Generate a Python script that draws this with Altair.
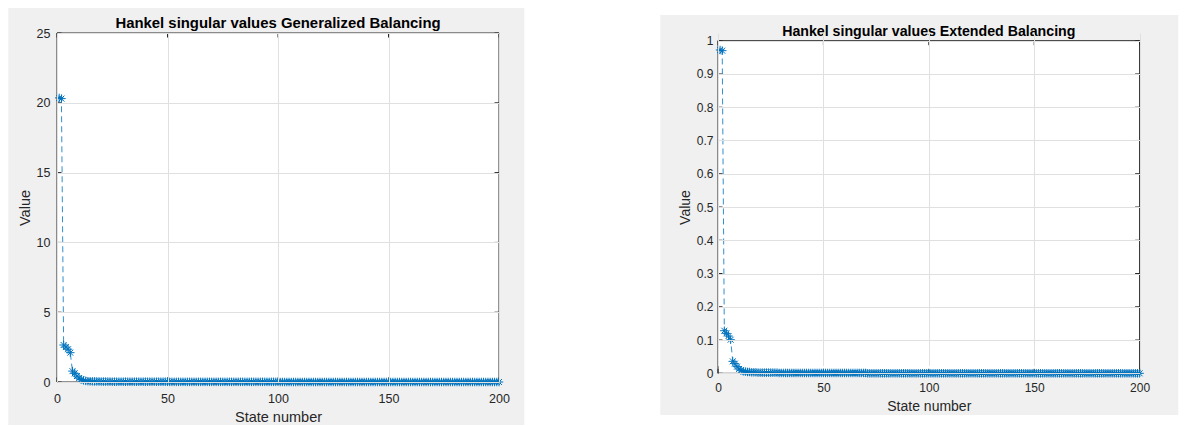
import altair as alt
import pandas as pd

# ---------------- data ----------------
state_number = list(range(1, 201))

gb_values = [
    20.35, 20.30, 2.65, 2.50, 2.35, 2.10, 0.78, 0.62, 0.42, 0.28, 0.18, 0.12, 0.08, 0.06, 0.05, 0.05, 0.04, 0.04, 0.04, 0.03,
    0.03, 0.03, 0.03, 0.03, 0.02, 0.02, 0.02, 0.02, 0.02, 0.02, 0.02, 0.02, 0.02, 0.02, 0.02, 0.02, 0.02, 0.02, 0.02, 0.02,
    0.02, 0.02, 0.02, 0.02, 0.02, 0.02, 0.02, 0.02, 0.02, 0.02, 0.01, 0.01, 0.01, 0.01, 0.01, 0.01, 0.01, 0.01, 0.01, 0.01,
    0.01, 0.01, 0.01, 0.01, 0.01, 0.01, 0.01, 0.01, 0.01, 0.01, 0.01, 0.01, 0.01, 0.01, 0.01, 0.01, 0.01, 0.01, 0.01, 0.01,
    0.01, 0.01, 0.01, 0.01, 0.01, 0.01, 0.01, 0.01, 0.01, 0.01, 0.01, 0.01, 0.01, 0.01, 0.01, 0.01, 0.01, 0.01, 0.01, 0.01,
    0.00, 0.00, 0.00, 0.00, 0.00, 0.00, 0.00, 0.00, 0.00, 0.00, 0.00, 0.00, 0.00, 0.00, 0.00, 0.00, 0.00, 0.00, 0.00, 0.00,
    0.00, 0.00, 0.00, 0.00, 0.00, 0.00, 0.00, 0.00, 0.00, 0.00, 0.00, 0.00, 0.00, 0.00, 0.00, 0.00, 0.00, 0.00, 0.00, 0.00,
    0.00, 0.00, 0.00, 0.00, 0.00, 0.00, 0.00, 0.00, 0.00, 0.00, 0.00, 0.00, 0.00, 0.00, 0.00, 0.00, 0.00, 0.00, 0.00, 0.00,
    0.00, 0.00, 0.00, 0.00, 0.00, 0.00, 0.00, 0.00, 0.00, 0.00, 0.00, 0.00, 0.00, 0.00, 0.00, 0.00, 0.00, 0.00, 0.00, 0.00,
    0.00, 0.00, 0.00, 0.00, 0.00, 0.00, 0.00, 0.00, 0.00, 0.00, 0.00, 0.00, 0.00, 0.00, 0.00, 0.00, 0.00, 0.00, 0.00, 0.00,
]

eb_values = [
    0.972, 0.970, 0.128, 0.120, 0.112, 0.101, 0.036, 0.029, 0.020, 0.013, 0.009, 0.006, 0.005, 0.004, 0.004, 0.003, 0.003, 0.003, 0.002, 0.002,
    0.002, 0.002, 0.002, 0.002, 0.002, 0.002, 0.002, 0.002, 0.001, 0.001, 0.001, 0.001, 0.001, 0.001, 0.001, 0.001, 0.001, 0.001, 0.001, 0.001,
    0.001, 0.001, 0.001, 0.001, 0.001, 0.001, 0.001, 0.001, 0.001, 0.001, 0.001, 0.001, 0.001, 0.001, 0.001, 0.001, 0.001, 0.001, 0.001, 0.001,
    0.001, 0.001, 0.001, 0.001, 0.001, 0.001, 0.001, 0.001, 0.001, 0.001, 0.000, 0.000, 0.000, 0.000, 0.000, 0.000, 0.000, 0.000, 0.000, 0.000,
    0.000, 0.000, 0.000, 0.000, 0.000, 0.000, 0.000, 0.000, 0.000, 0.000, 0.000, 0.000, 0.000, 0.000, 0.000, 0.000, 0.000, 0.000, 0.000, 0.000,
    0.000, 0.000, 0.000, 0.000, 0.000, 0.000, 0.000, 0.000, 0.000, 0.000, 0.000, 0.000, 0.000, 0.000, 0.000, 0.000, 0.000, 0.000, 0.000, 0.000,
    0.000, 0.000, 0.000, 0.000, 0.000, 0.000, 0.000, 0.000, 0.000, 0.000, 0.000, 0.000, 0.000, 0.000, 0.000, 0.000, 0.000, 0.000, 0.000, 0.000,
    0.000, 0.000, 0.000, 0.000, 0.000, 0.000, 0.000, 0.000, 0.000, 0.000, 0.000, 0.000, 0.000, 0.000, 0.000, 0.000, 0.000, 0.000, 0.000, 0.000,
    0.000, 0.000, 0.000, 0.000, 0.000, 0.000, 0.000, 0.000, 0.000, 0.000, 0.000, 0.000, 0.000, 0.000, 0.000, 0.000, 0.000, 0.000, 0.000, 0.000,
    0.000, 0.000, 0.000, 0.000, 0.000, 0.000, 0.000, 0.000, 0.000, 0.000, 0.000, 0.000, 0.000, 0.000, 0.000, 0.000, 0.000, 0.000, 0.000, 0.000,
]

x_ticks = [0, 50, 100, 150, 200]
gb_y_ticks = [0, 5, 10, 15, 20, 25]
eb_y_ticks = [0, 0.1, 0.2, 0.3, 0.4, 0.5, 0.6, 0.7, 0.8, 0.9, 1.0]

gb_title = "Hankel singular values Generalized Balancing"
eb_title = "Hankel singular values Extended Balancing"
x_title = "State number"
y_title = "Value"

# ---------------- style ----------------
FONT = "Liberation Sans"
BLUE = "#0072BD"
AXIS_COLOR = "#262626"
GRID_COLOR = "#e0e0e0"
FIG_BG = "#F0F0F0"
ASTERISK = "M-1,0L1,0M0,-1L0,1M-0.7,-0.7L0.7,0.7M-0.7,0.7L0.7,-0.7"
TICK_LEN = 4.5


def panel(values, title_text, y_ticks, y_max, w, top, plot_h, bg_box, fs):
    h = top + plot_h
    df = pd.DataFrame({"state": state_number, "value": values})
    xt = pd.DataFrame({"state": x_ticks})
    yt = pd.DataFrame({"value": y_ticks})
    one = alt.Data(values=[{"k": 1}])

    x_axis = alt.Axis(
        values=x_ticks, title=x_title, grid=True, gridColor=GRID_COLOR,
        domain=False, ticks=False, tickSize=0, labelFlush=False,
        labelPadding=fs["xlp"], labelFontSize=fs["lab"], labelColor=AXIS_COLOR,
        labelFont=FONT, titleFont=FONT, titleFontSize=fs["tit"],
        titleFontWeight="normal", titleColor=AXIS_COLOR, titlePadding=fs["xtp"],
        zindex=1,
    )
    y_axis = alt.Axis(
        values=y_ticks, title=y_title, format="~g", grid=True, gridColor=GRID_COLOR,
        domain=False, ticks=False, tickSize=0,
        labelPadding=fs["ylp"], labelFontSize=fs["lab"], labelColor=AXIS_COLOR,
        labelFont=FONT, titleFont=FONT, titleFontSize=fs["tit"],
        titleFontWeight="normal", titleColor=AXIS_COLOR, titlePadding=fs["ytp"],
        titleY=top + plot_h / 2, zindex=1,
    )
    x_scale = alt.Scale(domain=[0, 200], nice=False, zero=False)
    y_scale = alt.Scale(domain=[0, y_max], nice=False, range=[h, top])
    x_enc = alt.X("state:Q", scale=x_scale, axis=x_axis)
    y_enc = alt.Y("value:Q", scale=y_scale, axis=y_axis)

    layers = [
        # figure background
        alt.Chart(one).mark_rect(fill=FIG_BG).encode(
            x=alt.value(bg_box[0]), x2=alt.value(bg_box[1]),
            y=alt.value(bg_box[2]), y2=alt.value(bg_box[3])),
        # axes box
        alt.Chart(one).mark_rect(fill="white", stroke=AXIS_COLOR, strokeWidth=1).encode(
            x=alt.value(0), x2=alt.value(w), y=alt.value(top), y2=alt.value(h)),
        # title
        alt.Chart(one).mark_text(font=FONT, fontSize=fs["head"], fontWeight="bold",
                                 color="#000000", align="center", baseline="alphabetic").encode(
            x=alt.value(w / 2), y=alt.value(top - 5), text=alt.value(title_text)),
        # inward ticks: bottom / top
        alt.Chart(xt).mark_rule(color=AXIS_COLOR, strokeWidth=1).encode(
            x=x_enc, y=alt.value(h), y2=alt.value(h - TICK_LEN)),
        alt.Chart(xt).mark_rule(color=AXIS_COLOR, strokeWidth=1).encode(
            x=x_enc, y=alt.value(top), y2=alt.value(top + TICK_LEN)),
        # inward ticks: left / right
        alt.Chart(yt).mark_rule(color=AXIS_COLOR, strokeWidth=1).encode(
            y=y_enc, x=alt.value(0), x2=alt.value(TICK_LEN)),
        alt.Chart(yt).mark_rule(color=AXIS_COLOR, strokeWidth=1).encode(
            y=y_enc, x=alt.value(w), x2=alt.value(w - TICK_LEN)),
        # data
        alt.Chart(df).mark_line(color=BLUE, strokeDash=[6, 4], strokeWidth=0.8).encode(
            x=x_enc, y=y_enc),
        alt.Chart(df).mark_point(shape=ASTERISK, filled=False, size=72, strokeWidth=1,
                                 color=BLUE, opacity=1).encode(x=x_enc, y=y_enc),
    ]
    return alt.layer(*layers).properties(width=w, height=h)


left = panel(
    gb_values, gb_title, gb_y_ticks, 25, 442, 0, 349,
    bg_box=(-48.7, 467.3, -25, 392),
    fs={"lab": 12.5, "tit": 14.5, "head": 14.9, "xlp": 10, "xtp": 6, "ylp": 7, "ytp": 4},
)
right = panel(
    eb_values, eb_title, eb_y_ticks, 1, 421.6, 7.7, 332.6,
    bg_box=(-57.7, 460.3, -18, 382),
    fs={"lab": 12, "tit": 14, "head": 14.2, "xlp": 9.5, "xtp": 6, "ylp": 5, "ytp": 4},
)

chart = alt.hconcat(left, right, spacing=135).properties(
    padding=0, background="white"
).configure_view(strokeWidth=0)

chart.save("out.html", embed_options={"renderer": "svg", "actions": False})
